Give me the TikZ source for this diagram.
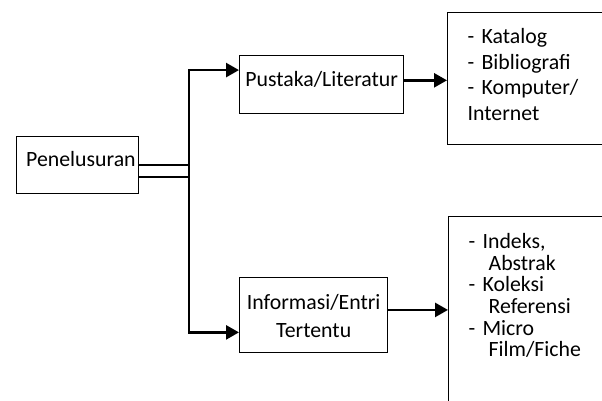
\documentclass[tikz,border=0pt]{standalone}
\usepackage{fontspec}
\setmainfont{Carlito}
\usetikzlibrary{arrows.meta, calc}

\begin{document}
\begin{tikzpicture}[x=1pt, y=-1pt, line join=miter,
    box/.style={draw, line width=1.3pt, anchor=north west, inner ysep=0pt, font=\fontsize{21.8}{28}\selectfont},
    link/.style={line width=2.6pt},
    arr/.style={link, -{Triangle[length=13pt, width=14pt]}}]
            \useasboundingbox (0,0) rectangle (602,401);
            \clip (0,0) rectangle (602,401);
            \node[box, text width=116pt, inner xsep=3pt, align=right, text height=30pt, text depth=27pt] (penelusuran) at (16,136) {Penelusuran};
            \node[box, text width=158pt, inner xsep=3pt, align=center, text height=31pt, text depth=27pt] (pustaka) at (239,55) {Pustaka/Literatur};
            \node[box, text width=142pt, inner xsep=3pt, align=center, text height=32pt, text depth=43pt] (informasi) at (239,277) {Informasi/Entri\\Tertentu};
            \node[box, text width=160pt, inner xsep=20pt, align=left, text height=31pt, text depth=101pt, font=\fontsize{21.8}{25.5}\selectfont] (katalog) at (447,12) {- Katalog\\- Bibliografi\\- Komputer/\\Internet};
            \node[box, text width=160pt, inner xsep=20pt, align=left, text height=32pt, text depth=200pt, font=\fontsize{21.8}{21.6}\selectfont] (indeks) at (448,216) {- Indeks,\\\hspace*{20pt}Abstrak\\- Koleksi\\\hspace*{20pt}Referensi\\- Micro\\\hspace*{20pt}Film/Fiche};
            \coordinate (fork) at (189,170);
            % double line out of Penelusuran, then the two branches
            \draw[link] (penelusuran.0) -- (penelusuran.0 -| fork);
            \draw[link] (penelusuran.-11) -- (penelusuran.-11 -| fork);
            \draw[arr] (penelusuran.-11 -| fork) |- (pustaka.170);
            \draw[arr] (penelusuran.0 -| fork) |- (informasi.193);
            \draw[arr] (pustaka.3) -- (pustaka.3 -| katalog.west);
            \draw[arr] (informasi.4) -- (informasi.4 -| indeks.west);
        \end{tikzpicture}
\end{document}
